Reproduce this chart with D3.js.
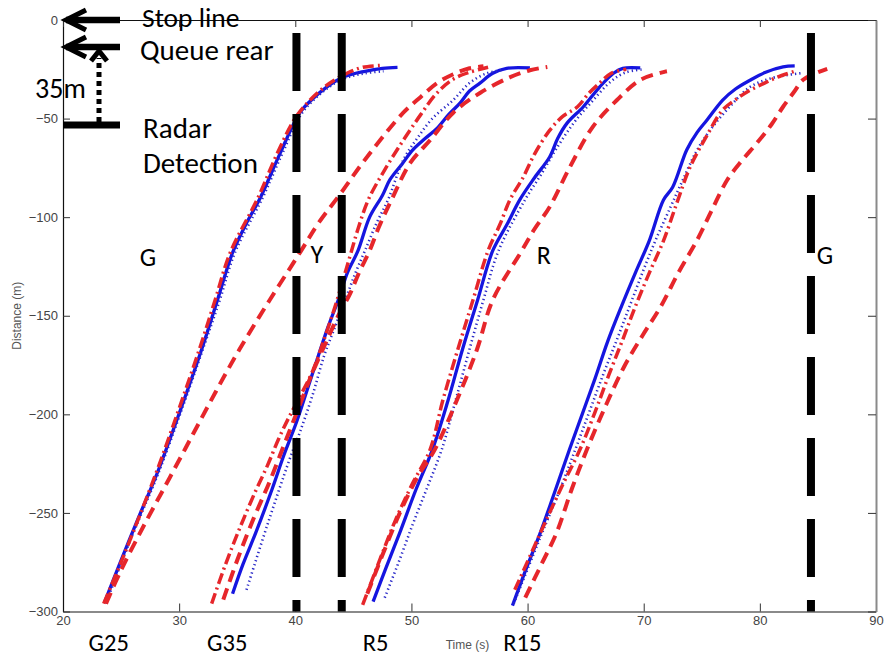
<!DOCTYPE html>
<html><head><meta charset="utf-8">
<script src="https://cdn.jsdelivr.net/npm/d3@7"></script>
<style>body{margin:0;background:#fff;}svg{display:block;}</style>
</head><body>
<script>
// ---- data ----
const xTicks = [20,30,40,50,60,70,80,90];
const yTicks = [0,-50,-100,-150,-200,-250,-300];
const signalTimes = [40.1, 44.0, 84.4];
const phaseLabels = ["G","Y","R","G"];
const phaseLabelPos = [[26.6,-125],[41.3,-123],[60.8,-124],[84.9,-124]];
const groupLabels = ["G25","G35","R5","R15"];
const groupLabelTimes = [22.2,32.4,45.8,57.9];

const g25Solid = [[23.6,-295],[25.0,-274],[26.6,-251],[28.1,-230],[30.1,-198],[32.0,-166],[33.3,-142],[34.6,-118],[35.8,-103],[37.0,-90],[38.7,-67.5],[40.4,-47],[41.5,-40],[42.7,-34],[44.1,-29],[46.0,-26],[47.5,-24.5],[48.8,-24]];
const g25Dotted = [[23.7,-296],[25.1,-274],[26.7,-251],[28.2,-230],[30.2,-198],[32.1,-166],[33.5,-142],[34.8,-118],[37.2,-90],[38.9,-67.5],[40.6,-47],[42.9,-34],[44.3,-29.5],[46.0,-27],[47.6,-26]];
const g25DashDot = [[23.5,-296],[25.0,-275],[28.0,-230],[30.0,-197],[31.8,-166],[33.1,-142],[34.4,-118],[36.8,-90],[38.5,-67],[40.2,-48],[42.5,-34],[44.45,-27],[45.8,-24],[47.5,-23]];
const g25Dashed = [[23.7,-296],[25.0,-279],[27.0,-256],[29.2,-232],[31.2,-210],[33.2,-188],[35.2,-167],[37.8,-142],[40.4,-118],[42.0,-103],[43.9,-88],[45.6,-74],[47.3,-61],[49.3,-47],[50.8,-39],[52.2,-32],[53.6,-27.5],[55.0,-24.5],[56.2,-23.5]];

const g35Solid = [[34.6,-291],[35.5,-276],[36.6,-260],[38.0,-238],[39.0,-221],[40.1,-204],[41.0,-188],[42.0,-170],[42.8,-156],[43.7,-142],[44.5,-128],[45.4,-117],[46.4,-100],[47.5,-89],[48.15,-81],[49.2,-73],[50.1,-66],[51.2,-60],[52.2,-55],[53.2,-48],[54.2,-42],[55.0,-36],[55.9,-32],[57.0,-27],[58.2,-24.5],[60.2,-24.3]];
const g35Dotted = [[35.8,-289],[37.6,-256],[39.5,-223],[40.4,-209],[41.5,-190],[42.5,-170],[43.4,-156],[44.3,-142],[45.2,-128],[46.0,-117],[47.0,-103],[48.0,-91],[49.3,-71],[50.5,-60],[51.8,-50],[53.6,-40.6],[55.0,-32],[56.5,-27],[57.9,-25.4]];
const g35DashDot = [[32.8,-296],[34.0,-276],[35.2,-258],[36.5,-240],[37.6,-226],[38.6,-212],[39.5,-201],[40.4,-191],[41.5,-178],[42.6,-160],[43.6,-142],[44.7,-120],[45.4,-106],[46.3,-91],[47.8,-75],[49.3,-61],[50.8,-48],[52.2,-37],[53.6,-30],[55.0,-26.5],[56.6,-24]];
const g35Dashed = [[33.8,-294],[35.0,-274],[36.4,-253],[37.8,-234],[39.0,-216],[40.2,-198],[41.4,-180],[42.6,-164],[43.7,-150],[44.7,-139],[45.5,-128],[46.4,-117],[47.2,-105],[48.3,-91],[49.9,-72.5],[51.6,-61],[53.6,-47],[55.9,-37],[58.5,-29],[60.2,-25.5],[61.7,-23.8]];

const r5Solid = [[46.7,-295],[47.8,-278],[49.0,-260],[50.4,-238],[51.8,-218],[53.15,-193],[54.4,-167],[55.7,-142],[57.0,-117],[58.2,-104],[59.35,-91],[60.6,-80],[61.9,-69.5],[62.6,-60],[63.4,-52.3],[64.8,-44],[66.2,-34],[67.4,-27],[68.2,-24.5],[69.7,-24.3]];
const r5Dotted = [[47.7,-293],[48.9,-275],[50.1,-256],[51.3,-238],[52.6,-218],[53.8,-193],[55.0,-167],[56.2,-142],[57.5,-117],[59.8,-91],[61.2,-78],[62.4,-66],[64.0,-52],[65.6,-41],[67.2,-31],[68.5,-26.5],[70.0,-25]];
const r5DashDot = [[45.8,-296.6],[47.2,-275],[48.6,-254],[50.1,-235],[51.6,-218],[52.7,-193],[54.0,-167],[55.3,-142],[56.6,-117],[57.6,-104],[58.5,-91],[59.6,-80],[60.6,-68],[61.9,-56],[63.0,-49],[64.3,-44],[65.3,-37],[66.2,-32],[67.2,-27],[68.5,-25]];
const r5Dashed = [[46.2,-291],[47.6,-270],[49.0,-250],[50.5,-232],[52.0,-218],[53.9,-193],[55.65,-167],[57.0,-142],[59.4,-118],[60.6,-106],[61.9,-94.8],[63.65,-74.5],[65.6,-54.3],[67.7,-40.6],[69.7,-30.4],[71.7,-26.4],[72.0,-26]];

const r15Solid = [[58.7,-297],[59.9,-278],[61.1,-260],[62.3,-240],[63.6,-218],[64.7,-200],[65.8,-182],[66.9,-163],[68.1,-145],[69.3,-128],[70.5,-111.6],[71.7,-91.3],[72.5,-84.7],[73.7,-65.9],[74.6,-57],[75.45,-50.7],[76.8,-40.6],[77.9,-35],[79.2,-30.4],[80.5,-26.5],[82.0,-23.8],[83.0,-23.3]];
const r15Dotted = [[58.8,-296],[60.1,-277],[61.4,-258],[62.8,-238],[64.1,-218],[65.3,-199],[66.5,-180],[67.7,-162],[68.8,-145],[69.9,-128],[71.0,-112],[72.3,-95],[73.3,-82],[74.5,-67],[75.7,-56],[77.4,-44],[79.15,-34],[81.0,-29.5],[83.5,-27]];
const r15DashDot = [[58.9,-289],[60.2,-272],[61.5,-255],[63.0,-236],[64.5,-218],[65.8,-199],[67.0,-180],[68.2,-162],[69.3,-145],[70.5,-128],[71.7,-112],[72.9,-92],[74.0,-74.5],[75.4,-59],[76.8,-45.6],[78.0,-40],[79.2,-35.5],[80.4,-32],[81.5,-29],[83.0,-26]];
const r15Dashed = [[59.8,-293],[61.2,-276],[62.5,-260],[63.8,-238],[65.1,-218],[66.7,-196],[68.3,-176],[69.9,-160],[71.5,-145],[73.0,-128],[74.6,-111.6],[75.9,-96],[77.2,-81],[78.5,-71],[79.75,-62.4],[81.0,-53],[82.0,-44],[83.0,-36],[83.7,-30.4],[84.8,-27],[85.8,-24.8]];

const solidSeries = [g25Solid, g35Solid, r5Solid, r15Solid];
const dottedSeries = [g25Dotted, g35Dotted, r5Dotted, r15Dotted];
const dashDotSeries = [g25DashDot, g35DashDot, r5DashDot, r15DashDot];
const dashedSeries = [g25Dashed, g35Dashed, r5Dashed, r15Dashed];

// ---- drawing ----
const W = 884, H = 658;
const L = 63, R = 876, T = 20, B = 611.5;
const svg = d3.select("body").append("svg").attr("width", W).attr("height", H);
const x = d3.scaleLinear().domain([20, 90]).range([L, R]);
const y = d3.scaleLinear().domain([-300, 0]).range([B, T]);

const tickFont = "'Liberation Sans', Arial, sans-serif";
const annFont = "Carlito, Lato, 'Open Sans', sans-serif";

// axes (MATLAB style, inward ticks)
const gx = svg.append("g").attr("transform", `translate(0,${B})`)
  .call(d3.axisBottom(x).tickValues(xTicks).tickSize(-8).tickPadding(4).tickSizeOuter(0));
const gy = svg.append("g").attr("transform", `translate(${L},0)`)
  .call(d3.axisLeft(y).tickValues(yTicks).tickSize(-7).tickPadding(5).tickSizeOuter(0));
const gt = svg.append("g").attr("transform", `translate(0,${T})`)
  .call(d3.axisTop(x).tickValues(xTicks).tickSize(-7).tickFormat("").tickSizeOuter(0));
const gr = svg.append("g").attr("transform", `translate(${R},0)`)
  .call(d3.axisRight(y).tickValues(yTicks).tickSize(-8).tickFormat("").tickSizeOuter(0));
[gx, gy].forEach(g => g.selectAll("text").attr("font-family", tickFont).attr("font-size", 13).attr("fill", "#444"));
gx.select(".domain").attr("stroke", "#8a8a8a").attr("stroke-width", 2);
gr.select(".domain").attr("stroke", "#8a8a8a").attr("stroke-width", 2);
gy.select(".domain").attr("stroke", "#111").attr("stroke-width", 1.2);
gt.select(".domain").attr("stroke", "#111").attr("stroke-width", 1.2);
svg.selectAll(".tick line").attr("stroke", "#333");

svg.append("text").attr("x", (L + R) / 2 - 2).attr("y", 649).attr("text-anchor", "middle")
  .attr("font-family", tickFont).attr("font-size", 12).attr("fill", "#555").text("Time (s)");
svg.append("text").attr("transform", `translate(21,${(T + B) / 2}) rotate(-90)`).attr("text-anchor", "middle")
  .attr("font-family", tickFont).attr("font-size", 12).attr("fill", "#555").text("Distance (m)");

// curves
const line = d3.line().x(d => x(d[0])).y(d => y(d[1])).curve(d3.curveCatmullRom.alpha(0.5));
const curves = svg.append("g").attr("fill", "none").attr("stroke-linecap", "butt");
curves.selectAll(".solid").data(solidSeries).join("path").attr("d", line)
  .attr("stroke", "#1515e0").attr("stroke-width", 3.3);
curves.selectAll(".dotted").data(dottedSeries).join("path").attr("d", line)
  .attr("stroke", "#2a2ac8").attr("stroke-width", 2.6).attr("stroke-dasharray", "1.3,3");
curves.selectAll(".dashdot").data(dashDotSeries).join("path").attr("d", line)
  .attr("stroke", "#e6262b").attr("stroke-width", 3.5).attr("stroke-dasharray", "11,4,2,4");
curves.selectAll(".dashed").data(dashedSeries).join("path").attr("d", line)
  .attr("stroke", "#e6262b").attr("stroke-width", 4).attr("stroke-dasharray", "12,7");

// signal phase lines
svg.append("g").selectAll("line").data(signalTimes).join("line")
  .attr("x1", d => x(d)).attr("x2", d => x(d))
  .attr("y1", y(-6.6)).attr("y2", y(-300))
  .attr("stroke", "#000").attr("stroke-width", 8).attr("stroke-dasharray", "58,23");

// labels
const annText = (t, px, py, fs) => svg.append("text").attr("x", px).attr("y", py)
  .attr("font-family", annFont).attr("font-size", fs).attr("fill", "#000").text(t);
phaseLabels.forEach((t, i) => annText(t, x(phaseLabelPos[i][0]), y(phaseLabelPos[i][1]), 26));
groupLabels.forEach((t, i) => annText(t, x(groupLabelTimes[i]), 651, 24.5));

// annotation arrows (top-left)
const ann = svg.append("g").attr("stroke", "#000").attr("fill", "none");
[20, 47].forEach(py => {
  ann.append("line").attr("x1", 66).attr("x2", 120).attr("y1", py).attr("y2", py).attr("stroke-width", 6.5);
  ann.append("polyline").attr("points", `86,${py - 10} 66,${py} 86,${py + 10}`).attr("stroke-width", 5).attr("stroke-linejoin", "miter");
});
ann.append("line").attr("x1", 63).attr("x2", 120).attr("y1", 125).attr("y2", 125).attr("stroke-width", 7);
ann.append("line").attr("x1", 99).attr("x2", 99).attr("y1", 122).attr("y2", 58).attr("stroke-width", 5).attr("stroke-dasharray", "5,4");
ann.append("polyline").attr("points", "91,61 99,51 107,61").attr("stroke-width", 5);

annText("Stop line", 142, 26.5, 27.5);
annText("Queue rear", 140, 60, 29);
annText("35m", 35, 98, 28);
annText("Radar", 143, 138, 29);
annText("Detection", 143, 173, 29);
</script>
</body></html>
